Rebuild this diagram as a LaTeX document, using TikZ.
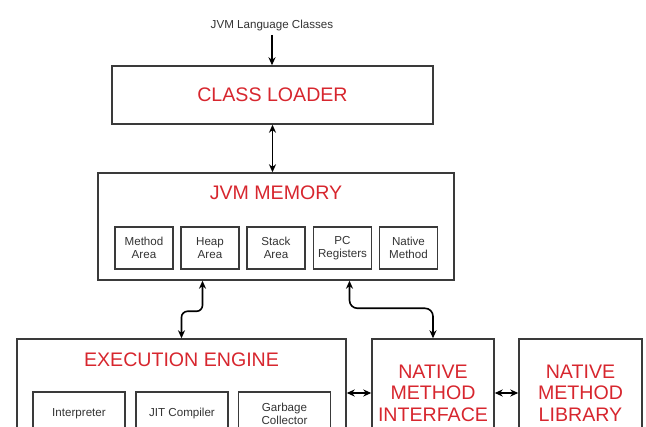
\documentclass[tikz,border=0pt]{standalone}
\usepackage{fontspec}
\setmainfont{Liberation Sans}
\usetikzlibrary{arrows.meta, positioning, calc}
\definecolor{jvmred}{HTML}{D7262E}
\definecolor{jvmline}{HTML}{3A3A3A}
\definecolor{jvmtext}{HTML}{333333}
\tikzset{
  outerbox/.style={draw=jvmline, line width=1.4pt, inner sep=0pt},
  innerbox/.style={draw=jvmline, line width=1.2pt, inner sep=0pt, align=center, text=jvmtext, font=\fontsize{11.6}{13.5}\selectfont},
  titletext/.style={text=jvmred, align=center, font=\fontsize{19.6}{21.5}\selectfont},
  tip/.style={Stealth[length=8pt,width=7pt,inset=2.5pt]},
  biarrow/.style={{Stealth[length=8pt,width=7pt,inset=2.5pt]}-{Stealth[length=8pt,width=7pt,inset=2.5pt]}, line width=1.6pt, draw=black},
  onearrow/.style={-{Stealth[length=8pt,width=7pt,inset=2.5pt]}, line width=1.6pt, draw=black},
}

\begin{document}
\begin{tikzpicture}[x=1pt, y=-1pt]
    \useasboundingbox (0,0) rectangle (646,427);
    \clip (0,0) rectangle (646,427);

    % Class loader
    \node[text=jvmtext, font=\fontsize{11.6}{13}\selectfont] (source) at (272,26) {JVM Language Classes};
    \node[outerbox, titletext, minimum width=321pt, minimum height=58pt] (loader) at (272.5,95) {CLASS LOADER};

    % JVM memory
    \node[outerbox, minimum width=356pt, minimum height=107pt] (memory) at (276,226.5) {};
    \node[titletext] (memtitle) at (276,193) {JVM MEMORY};
    \node[innerbox, minimum width=58pt, minimum height=42pt] (method) at (144,248) {Method\\Area};
    \node[innerbox, minimum width=58pt, minimum height=42pt] (heap) at (210,248) {Heap\\Area};
    \node[innerbox, minimum width=58pt, minimum height=42pt] (stack) at (276,248) {Stack\\Area};
    \node[innerbox, minimum width=58pt, minimum height=42pt] (pcreg) at (342.5,248) {PC\\Registers};
    \node[innerbox, minimum width=58pt, minimum height=42pt] (nstack) at (408.5,248) {Native\\Method};

    % Execution engine
    \node[outerbox, minimum width=329pt, minimum height=113pt] (engine) at (181.5,395.5) {};
    \node[titletext] (enginetitle) at (181.5,360) {EXECUTION ENGINE};
    \node[innerbox, minimum width=92pt, minimum height=44pt] (interp) at (79,414) {Interpreter};
    \node[innerbox, minimum width=92pt, minimum height=44pt] (jit) at (182,414) {JIT Compiler};
    \node[innerbox, minimum width=92pt, minimum height=44pt] (gc) at (284.5,414) {Garbage\\Collector};

    % Native side
    \node[outerbox, titletext, minimum width=122pt, minimum height=108pt] (nmi) at (433,393) {NATIVE\\METHOD\\INTERFACE};
    \node[outerbox, titletext, minimum width=123pt, minimum height=108pt] (nml) at (580.5,393) {NATIVE\\METHOD\\LIBRARY};

    % Connectors
    \draw[onearrow] (source.south) -- (source.south |- loader.north);
    \draw[biarrow] (loader.south) -- (loader.south |- memory.north);
    \draw[biarrow, rounded corners=6pt] ($(memory.south)+(-73.5,0)$) |- ($(engine.north)+(0,-27)$) -- (engine.north);
    \draw[biarrow, rounded corners=8pt] ($(memory.south)+(73.5,0)$) |- ($(nmi.north)+(0,-30)$) -- (nmi.north);
    \draw[biarrow] (nmi.west -| engine.east) -- (nmi.west);
    \draw[biarrow] (nmi.east) -- (nml.west);
\end{tikzpicture}
\end{document}
